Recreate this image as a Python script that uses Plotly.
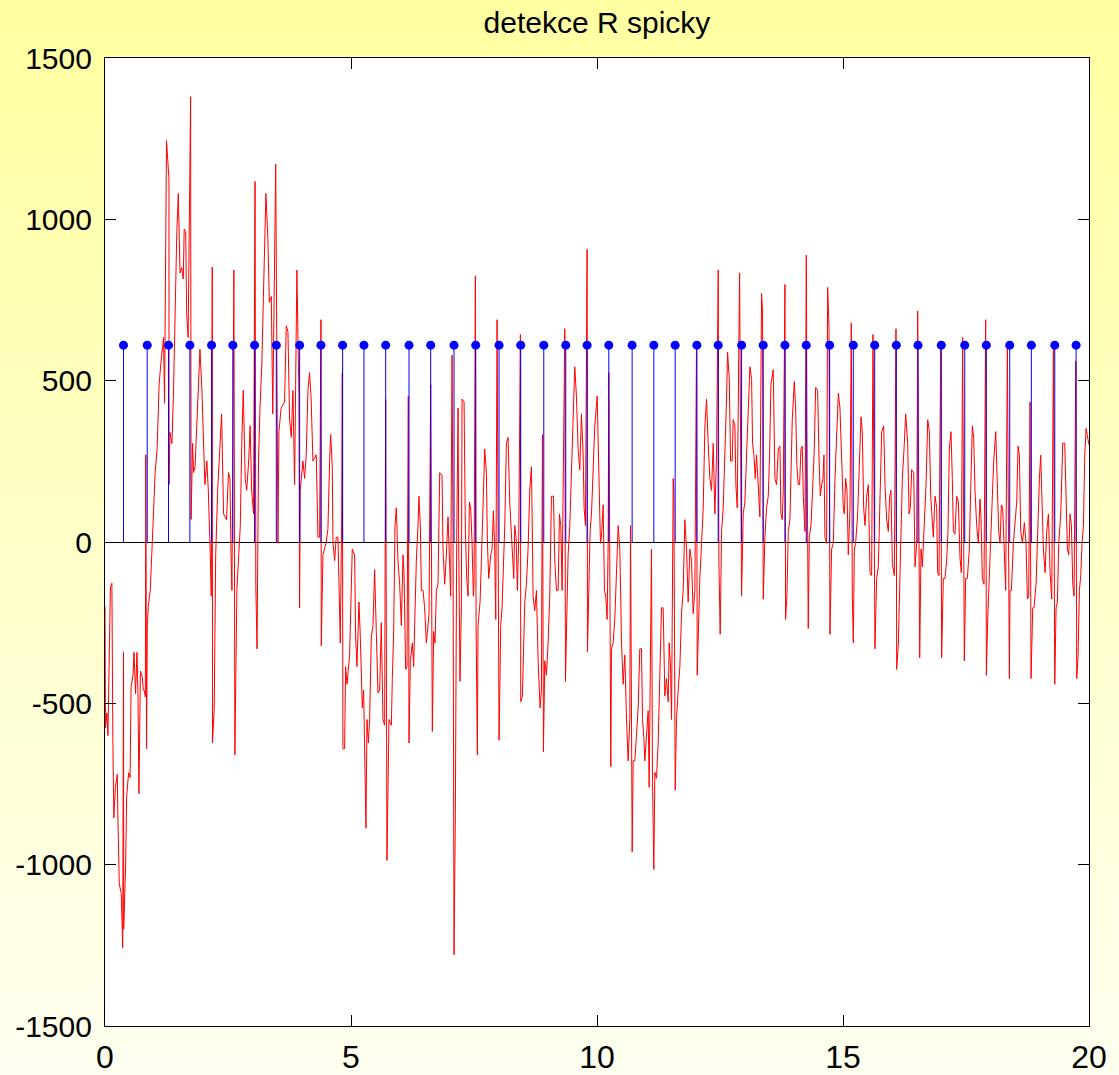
import plotly.graph_objects as go

# ---------------- data ----------------
# R-peak detections (time in s) and marker level
stem_time = [0.376, 0.858, 1.291, 1.725, 2.166, 2.599, 3.040, 3.482, 3.956, 4.389,
             4.830, 5.263, 5.705, 6.179, 6.620, 7.094, 7.535, 8.009, 8.450, 8.918,
             9.365, 9.799, 10.240, 10.714, 11.155, 11.589, 12.030, 12.463, 12.939, 13.378,
             13.820, 14.253, 14.729, 15.209, 15.644, 16.083, 16.524, 16.998, 17.474, 17.913,
             18.389, 18.828, 19.304, 19.738]
stem_value = [610, 610, 610, 610, 610, 610, 610, 610, 610, 610,
              610, 610, 610, 610, 610, 610, 610, 610, 610, 610,
              610, 610, 610, 610, 610, 610, 610, 610, 610, 610,
              610, 610, 610, 610, 610, 610, 610, 610, 610, 610,
              610, 610, 610, 610]

# filtered ECG signal (time in s, amplitude)
signal_time = [
    0.00, 0.005, 0.01, 0.04, 0.06, 0.11, 0.14, 0.16, 0.18, 0.21,
    0.25, 0.26, 0.29, 0.33, 0.36, 0.376, 0.38, 0.42, 0.44, 0.48,
    0.51, 0.53, 0.57, 0.59, 0.62, 0.65, 0.67, 0.69, 0.72, 0.76,
    0.78, 0.80, 0.82, 0.83, 0.845, 0.86, 0.88, 0.92, 0.95, 1.02,
    1.06, 1.10, 1.14, 1.19, 1.21, 1.25, 1.30, 1.302, 1.32, 1.36,
    1.39, 1.42, 1.46, 1.49, 1.505, 1.525, 1.56, 1.59, 1.61, 1.64,
    1.66, 1.69, 1.74, 1.75, 1.78, 1.80, 1.83, 1.90, 1.93, 1.97,
    2.00, 2.03, 2.07, 2.10, 2.14, 2.16, 2.18, 2.185, 2.22, 2.25,
    2.29, 2.34, 2.37, 2.41, 2.47, 2.51, 2.54, 2.56, 2.58, 2.62,
    2.64, 2.68, 2.71, 2.75, 2.78, 2.81, 2.85, 2.88, 2.92, 2.95,
    2.98, 3.02, 3.05, 3.065, 3.09, 3.12, 3.15, 3.19, 3.22, 3.27,
    3.31, 3.34, 3.38, 3.41, 3.47,
    3.494, 3.515, 3.535, 3.58, 3.65, 3.684, 3.718, 3.752, 3.786, 3.82,
    3.853, 3.90, 3.942, 3.955, 3.969, 4.023, 4.057, 4.09, 4.125, 4.158,
    4.19, 4.226, 4.294, 4.328, 4.362, 4.389, 4.396, 4.43, 4.497, 4.531,
    4.565, 4.586, 4.62, 4.633, 4.667, 4.70, 4.735, 4.769, 4.782, 4.81, 4.823,
    4.836, 4.87, 4.89, 4.918, 4.972, 5.006, 5.026, 5.074, 5.094, 5.121,
    5.162, 5.189, 5.23, 5.257, 5.304, 5.325, 5.352, 5.379, 5.413, 5.447,
    5.48, 5.514, 5.548, 5.582, 5.616, 5.65, 5.684, 5.704, 5.731, 5.772,
    5.82, 5.84, 5.867, 5.894, 5.921, 5.955, 5.989, 6.023, 6.057, 6.077,
    6.111, 6.138, 6.165, 6.179, 6.206, 6.247, 6.274, 6.30, 6.328, 6.362,
    6.382, 6.409, 6.43, 6.464, 6.497, 6.531, 6.586, 6.62, 6.653, 6.68,
    6.708,
    6.735, 6.769, 6.803, 6.85, 6.87, 6.904, 6.938, 6.972, 7.006, 7.026,
    7.054, 7.074, 7.094, 7.121, 7.148, 7.176, 7.19, 7.216, 7.243, 7.257,
    7.298, 7.325, 7.352, 7.379, 7.406, 7.433, 7.46, 7.487, 7.501, 7.528,
    7.542, 7.569, 7.582, 7.623, 7.65, 7.684, 7.718, 7.752, 7.772, 7.799,
    7.84, 7.867, 7.894, 7.921, 7.942, 7.969, 7.989, 8.01, 8.043, 8.07,
    8.098, 8.125, 8.159, 8.193, 8.226, 8.26, 8.28, 8.308, 8.328, 8.355,
    8.382, 8.41, 8.443, 8.45, 8.484, 8.511, 8.532, 8.565, 8.599, 8.633,
    8.667, 8.681, 8.701, 8.735, 8.769, 8.803, 8.843, 8.87, 8.891, 8.911,
    8.938, 8.972, 9.006, 9.04, 9.074, 9.115, 9.142, 9.176, 9.21, 9.237,
    9.264, 9.291, 9.318, 9.345, 9.359, 9.386, 9.413, 9.447, 9.48, 9.515,
    9.548, 9.582, 9.616, 9.65, 9.684, 9.718, 9.738, 9.765, 9.799, 9.806,
    9.833, 9.86, 9.888, 9.921, 9.955, 10.003, 10.023, 10.043, 10.07, 10.09,
    10.125,
    10.152, 10.179, 10.206, 10.227, 10.24, 10.281, 10.294, 10.328, 10.362, 10.396,
    10.43, 10.464, 10.498, 10.532, 10.565, 10.6, 10.633, 10.667, 10.681, 10.715,
    10.735, 10.769, 10.803, 10.837, 10.87, 10.904, 10.925, 10.952, 10.972, 11.006,
    11.04, 11.06, 11.108, 11.128, 11.155, 11.176, 11.21, 11.243, 11.277, 11.311,
    11.345, 11.379, 11.413, 11.447, 11.467, 11.494, 11.515, 11.549, 11.562, 11.59,
    11.616, 11.65, 11.684, 11.718, 11.752, 11.786, 11.82, 11.853, 11.888, 11.921,
    11.955, 11.989, 12.023, 12.037, 12.064, 12.09, 12.125, 12.159, 12.193, 12.226,
    12.26, 12.294, 12.328, 12.362, 12.396, 12.43, 12.464, 12.477, 12.504, 12.532,
    12.565, 12.6, 12.633, 12.654, 12.688, 12.715, 12.748, 12.769, 12.803, 12.823,
    12.85, 12.898, 12.918, 12.938, 12.972, 13.006, 13.04, 13.074, 13.108, 13.142,
    13.162, 13.189, 13.216, 13.243, 13.277, 13.311, 13.345, 13.365, 13.379, 13.413,
    13.447, 13.481, 13.508, 13.535, 13.582, 13.603, 13.616, 13.65, 13.684, 13.718,
    13.738, 13.766, 13.786, 13.82, 13.833, 13.86, 13.888, 13.921, 13.942, 13.969,
    14.01, 14.037, 14.064, 14.091, 14.118, 14.145, 14.172, 14.193, 14.227, 14.254,
    14.267, 14.294, 14.315, 14.349, 14.376, 14.416, 14.444, 14.484, 14.511, 14.538,
    14.566, 14.593, 14.613, 14.633, 14.667, 14.688, 14.715, 14.735, 14.769, 14.803,
    14.837, 14.871, 14.905, 14.938, 14.972, 15.006, 15.027, 15.054, 15.081, 15.108,
    15.142, 15.169, 15.189, 15.21, 15.23, 15.257, 15.298, 15.332, 15.366, 15.393,
    15.42, 15.447, 15.481, 15.515, 15.549, 15.582, 15.61, 15.65, 15.684, 15.718,
    15.752, 15.786, 15.827, 15.854, 15.888, 15.921, 15.948, 15.975, 16.003, 16.043,
    16.077, 16.091, 16.125, 16.152, 16.179, 16.206, 16.247, 16.274, 16.315, 16.342,
    16.369, 16.396, 16.437, 16.464, 16.498, 16.518, 16.559, 16.586, 16.613, 16.654,
    16.688, 16.722, 16.755, 16.783, 16.816,
    16.836, 16.87, 16.904, 16.924, 16.951, 16.985, 17.005, 17.039, 17.073, 17.107,
    17.134, 17.161, 17.195, 17.222, 17.243, 17.276, 17.31, 17.344, 17.378, 17.405,
    17.432, 17.466, 17.493, 17.527, 17.568, 17.595, 17.629, 17.656, 17.683, 17.717,
    17.751, 17.785, 17.805, 17.832, 17.866, 17.9, 17.914, 17.941, 17.968, 18.002,
    18.029, 18.063, 18.104, 18.138, 18.165, 18.192, 18.219, 18.246, 18.273, 18.307,
    18.341, 18.382, 18.395, 18.422, 18.463, 18.497, 18.531, 18.558, 18.585, 18.612,
    18.646, 18.687, 18.72, 18.748, 18.775, 18.802, 18.822, 18.856, 18.883, 18.924,
    18.958, 18.992, 19.019, 19.046, 19.073, 19.107, 19.141, 19.175, 19.209, 19.243,
    19.277, 19.304, 19.331, 19.358, 19.385, 19.426, 19.466, 19.507, 19.534, 19.561,
    19.588, 19.615, 19.643, 19.67, 19.697, 19.731, 19.751, 19.778, 19.805, 19.832,
    19.859, 19.887, 19.914, 19.941, 20.0,
]
signal_value = [
    -200, -375, -575, -530, -600, -138, -128, -615, -855, -760,
    -720, -840, -1060, -1090, -1257, -342, -1200, -998, -790, -715,
    -730, -450, -410, -342, -470, -342, -470, -780, -400, -420,
    -460, -460, -480, 270, -641, -260, -200, -150, -40, 215,
    290, 490, 560, 634, 430, 1244, 1125, 178, 340, 305,
    450, 707, 962, 1080, 907, 834, 850, 815, 970, 962,
    707, 634, 1380, 70, 306, 215, 233, 470, 597, 470,
    324, 178, 251, 160, -40, -168, 852, -623, -514, -40,
    160, 342, 397, 87, 69, 215, 197, -22, -150, 843,
    -660, -150, -77, 51, 306, 470, 197, 160, 251, 360,
    160, 87, 1117, -131, -331, 251, 415, 561, 761, 1080,
    944, 743, 761, 397, 1171,
    342, -4, 342, 415, 434, 670, 652, 379, 324, 470,
    178, 843, 452, -204, 160, 251, 197, 270, 470, 525,
    443, 251, 270, 15, 15, 689, -322, -40, 0, 42,
    251, 333, 233, 0, -58, 15, 15, -204, -313, 69, 525,
    -641, -641, -386, -441, -350, -150, -22, -40, -295, -386,
    -186, -295, -514, -459, -887, -550, -623, -550, -295, -259,
    -86, -277, -468, -459, -250, -550, -568, 442, -987, -550,
    -568, -423, -277, 51, 106, -58, -131, -259, -40, -95,
    -395, -386, 452, -623, -368, -313, -386, -222, -58, 51,
    142, 51, -150, -150, -204, -313, -222, 488, -587, -277,
    -313,
    -150, -131, 215, 206, -22, -131, -40, 78, -77, -168,
    579, -4, -1279, -842, -4, 415, -22, -432, -204, 443,
    434, 33, -113, -168, 124, 106, 0, -168, -131, 825,
    -259, -660, -259, -186, -58, 142, 288, 215, 0, -113,
    -40, -22, 97, -22, -240, 689, -22, -614, -259, -204,
    -77, 51, 306, 324, 124, 33, -58, -113, 51, 15,
    -150, 15, 643, -495, -477, -259, -186, -131, -22, 160,
    233, 87, -168, -213, -150, -368, -514, -459, 333, -650,
    -368, -413, -313, -168, 142, 142, -58, -150, -150, 87,
    51, -150, 415, 661, -432, -168, -40, 51, 197, 415,
    543, 452, 288, 224, 397, 270, 106, 51, 907, -340,
    -186, 33, 87, 197, 360, 452, 324, 160, -4, 15,
    115,
    -150, -168, -240, -4, 525, -696, -331, -313, -240, -95,
    51, -22, -313, -441, -350, -550, -678, -550, 51, -960,
    -678, -678, -587, -514, -331, -331, -550, -605, -678, -587,
    -523, -760, -22, -741, -1015, -714, -732, -623, -441, -204,
    -204, -477, -423, -495, -313, -386, -550, 197, 160, -769,
    -550, -459, -386, -222, -150, 69, -22, -186, -22, -58,
    -222, -150, 620, -413, -204, -113, -4, 106, 360, 443,
    306, 197, 160, 306, 87, 270, 843, -58, -286, 33,
    106, 251, 443, 588, 506, 251, 251, 379, 361, 178,
    106, 834, 87, -168, 87, 124, 270, 388, 543, 506,
    306, 270, 197, 270, 160, 78, 770, 715, -177, 15,
    106, 142, 270, 488, 534, 379, 197, 178, 288, 297,
    87, 69, 160, 798, -240, -168, 33, 69, 233, 379,
    497, 415, 233, 178, 178, 288, 297, 142, 33, 889,
    360, -268, 15, 51, 142, 288, 479, 470, 270, 142,
    178, 197, 270, 15, -4, 789, 670, -286, -22, -4,
    197, 306, 461, 415, 251, 106, 87, 197, 160, -40,
    106, 679, -168, -313, -22, -4, 87, 251, 388, 342,
    106, 51, 142, 178, -95, -104, 643, -331, -113, -77,
    124, 342, 360, 178, 69, 33, 142, 160, -67, -104,
    661, -395, -313, -104, 51, 197, 306, 397, 306, 87,
    106, 224, 215, -77, -4, 716, -359, -22, -77, 51,
    178, 379, 342, 142, 33,
    15, 142, 106, -95, -104, 597, -359, -113, -113, -58,
    33, 288, 342, 197, 33, 24, 142, 124, -49, -95,
    634, -368, -113, -113, -22, 160, 360, 324, 160, 51,
    -4, 133, 78, -113, -131, 689, -413, -240, -131, -4,
    142, 251, 342, 197, 33, -4, 115, 106, -22, -150,
    607, -423, -150, -150, -4, 51, 124, 297, 270, 33,
    -4, 60, -4, -177, -168, 434, -423, -204, -204, -131,
    51, 197, 269, 142, -22, -95, 33, 87, -95, -177,
    616, -441, -204, -186, -4, 87, 306, 306, 87, -22,
    -40, 87, 51, -131, -168, 561, -423, -350, -150, -104,
    -4, 51, 270, 352, 300,
]

x_tick_vals = [0, 5, 10, 15, 20]
x_tick_text = ["0", "5", "10", "15", "20"]
y_tick_vals = [-1500, -1000, -500, 0, 500, 1000, 1500]
y_tick_text = ["-1500", "-1000", "-500", "0", "500", "1000", "1500"]

title_text = "detekce R spicky"

# ---------------- figure ----------------
W, H = 1119, 1075
ML, MR, MT, MB = 105, 30, 58, 49
FONT = "Liberation Sans, Arial, sans-serif"

fig = go.Figure()

fig.add_trace(go.Scatter(
    x=signal_time, y=signal_value, mode="lines",
    line=dict(color="#ff0000", width=1),
    hoverinfo="skip",
))

fig.add_trace(go.Scatter(
    x=stem_time, y=stem_value, mode="markers",
    marker=dict(color="#0000ff", size=9, line=dict(width=0)),
    error_y=dict(type="data", symmetric=False,
                 array=[0] * len(stem_value), arrayminus=stem_value,
                 color="#0000ff", thickness=1, width=0),
))

# vertical yellow gradient background (figure area)
shapes = []
n_bands = 90
y_lo, y_hi = -MB / (H - MT - MB) - 0.01, 1 + MT / (H - MT - MB) + 0.01
top_rgb = (255, 255, 160)
bot_rgb = (255, 255, 240)
for i in range(n_bands):
    f = i / (n_bands - 1)
    r = round(top_rgb[0] + (bot_rgb[0] - top_rgb[0]) * f)
    g = round(top_rgb[1] + (bot_rgb[1] - top_rgb[1]) * f)
    b = round(top_rgb[2] + (bot_rgb[2] - top_rgb[2]) * f)
    y1 = y_hi - (y_hi - y_lo) * i / n_bands
    y0 = y_hi - (y_hi - y_lo) * (i + 1) / n_bands - 0.002
    shapes.append(dict(type="rect", xref="paper", yref="paper",
                       x0=-0.2, x1=1.2, y0=y0, y1=y1,
                       fillcolor=f"rgb({r},{g},{b})", line=dict(width=0),
                       layer="below"))
# white plot area
shapes.append(dict(type="rect", xref="paper", yref="paper",
                   x0=0, x1=1, y0=0, y1=1, fillcolor="white",
                   line=dict(width=0), layer="below"))

axis_common = dict(
    showgrid=False, showline=True, linecolor="black", linewidth=1.2,
    mirror="allticks", ticks="inside", ticklen=11, tickwidth=1.2,
    tickcolor="black", automargin=False,
)

fig.update_layout(
    width=W, height=H,
    margin=dict(l=ML, r=MR, t=MT, b=MB, pad=0, autoexpand=False),
    paper_bgcolor="rgb(255,255,160)",
    plot_bgcolor="white",
    showlegend=False,
    shapes=shapes,
    title=dict(text=title_text, x=0.5, xref="paper", xanchor="center",
               y=1 - 22 / H, yref="container", yanchor="middle",
               automargin=False,
               font=dict(family=FONT, size=30, color="black")),
    xaxis=dict(range=[0, 20], tickvals=x_tick_vals, ticktext=x_tick_text,
               zeroline=False, ticklabelstandoff=2,
               tickfont=dict(family=FONT, size=32, color="black"),
               **axis_common),
    yaxis=dict(range=[-1500, 1500], tickvals=y_tick_vals, ticktext=y_tick_text,
               zeroline=True, zerolinecolor="black", zerolinewidth=1,
               ticklabelstandoff=6,
               tickfont=dict(family=FONT, size=30, color="black"),
               **axis_common),
)

fig.write_html(
    "out.html",
    config={"displayModeBar": False},
    post_script="document.body.style.margin='0';document.body.style.overflow='hidden';",
)
